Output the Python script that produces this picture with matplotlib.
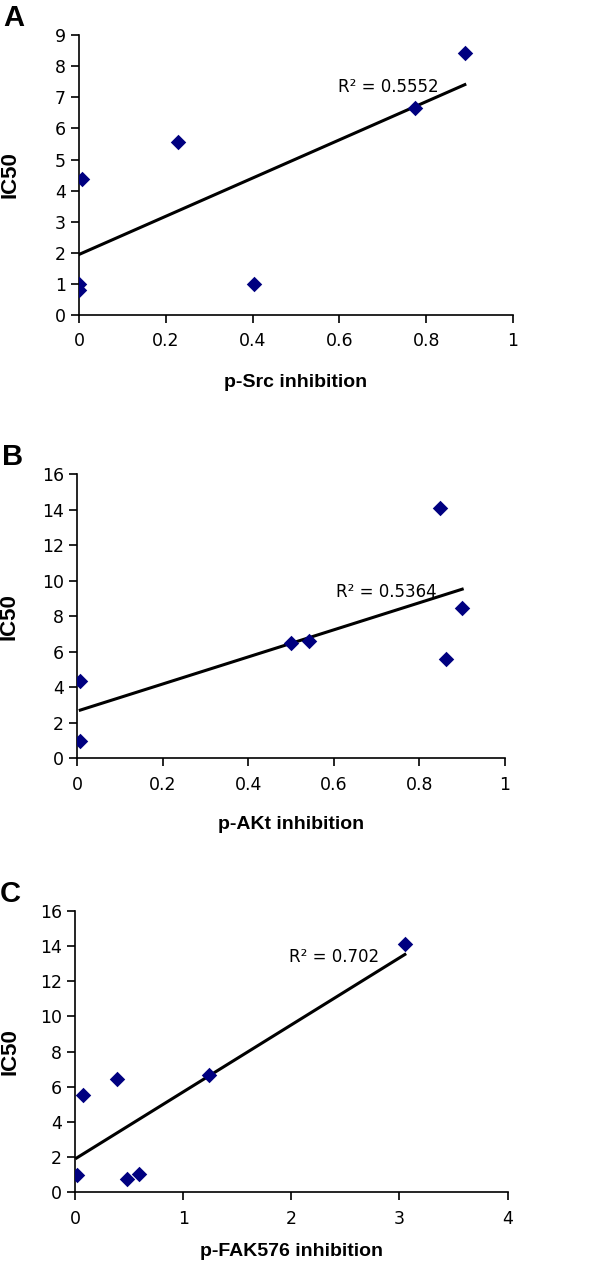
import matplotlib
matplotlib.use('Agg')
import matplotlib.pyplot as plt
import numpy as np

plt.rcParams['font.family'] = ['Liberation Sans', 'DejaVu Sans']

# panel A: p-Src
src_x = [0.889, 0.774, 0.229, 0.008, 0.0, 0.0, 0.404]
src_y = [8.43, 6.64, 5.55, 4.37, 1.0, 0.79, 1.0]
# panel B: p-AKt
akt_x = [0.848, 0.900, 0.861, 0.500, 0.542, 0.007, 0.007]
akt_y = [14.08, 8.45, 5.58, 6.48, 6.63, 4.37, 0.99]
# panel C: p-FAK576
fak_x = [3.05, 1.238, 0.391, 0.071, 0.015, 0.483, 0.594]
fak_y = [14.12, 6.67, 6.45, 5.53, 0.98, 0.76, 1.02]

panels = [
    ('A', src_x, src_y, 'p-Src inhibition', 'R² = 0.5552', (0, 1), np.arange(0, 1.01, 0.2), (0, 9), np.arange(0, 10, 1), (0.597, 7.18)),
    ('B', akt_x, akt_y, 'p-AKt inhibition', 'R² = 0.5364', (0, 1), np.arange(0, 1.01, 0.2), (0, 16), np.arange(0, 17, 2), (0.605, 9.1)),
    ('C', fak_x, fak_y, 'p-FAK576 inhibition', 'R² = 0.702', (0, 4), np.arange(0, 5, 1), (0, 16), np.arange(0, 17, 2), (1.98, 13.12)),
]

# axes boxes in figure fractions [left, bottom, width, height]
boxes = [
    [0.1317, 0.7529, 0.7233, 0.2196],
    [0.1288, 0.4053, 0.7128, 0.2227],
    [0.1250, 0.0649, 0.7210, 0.2206],
]
# label offsets (axes fractions)
xlab_y = [-0.21, -0.203, -0.18]
ylab_x = [-0.134, -0.134, -0.125]

fig = plt.figure(figsize=(6, 12.75), dpi=100)

def fmt(v):
    s = '%g' % v
    return s

tick_font = 'DejaVu Sans'

for i, ((letter, xs, ys, xlab, r2, xlim, xt, ylim, yt, r2pos), box) in enumerate(zip(panels, boxes)):
    ax = fig.add_axes(box)
    ax.scatter(xs, ys, marker='D', s=62, color='#000080', zorder=3, linewidths=0)
    k, b = np.polyfit(xs, ys, 1)
    lx = np.array([min(xs), max(xs)])
    ax.plot(lx, k * lx + b, color='black', lw=2.2, zorder=2)
    ax.text(r2pos[0], r2pos[1], r2, fontsize=12, family=tick_font, ha='left', va='baseline')

    ax.set_xlim(xlim)
    ax.set_ylim(ylim)
    ax.set_xticks(xt)
    ax.set_yticks(yt)
    ax.set_xticklabels([fmt(round(v, 1)) for v in xt], family=tick_font, fontsize=12.5)
    ax.set_yticklabels([fmt(v) for v in yt], family=tick_font, fontsize=12.5)
    for s in ['top', 'right']:
        ax.spines[s].set_visible(False)
    for s in ['left', 'bottom']:
        ax.spines[s].set_linewidth(1.2)
    ax.tick_params(direction='out', length=5.5, width=1.2, pad=4)
    ax.tick_params(axis='x', pad=7)
    ax.set_xlabel(xlab, fontsize=14, fontweight='bold')
    ax.set_ylabel('IC50', fontsize=16, fontweight='bold')
    ax.xaxis.set_label_coords(0.5, xlab_y[i])
    ax.yaxis.set_label_coords(ylab_x[i], 0.5)
    ax.text(-0.175, 1.01, letter, transform=ax.transAxes, fontsize=21, fontweight='bold', ha='left', va='bottom')

fig.savefig('out.png', dpi=100)
